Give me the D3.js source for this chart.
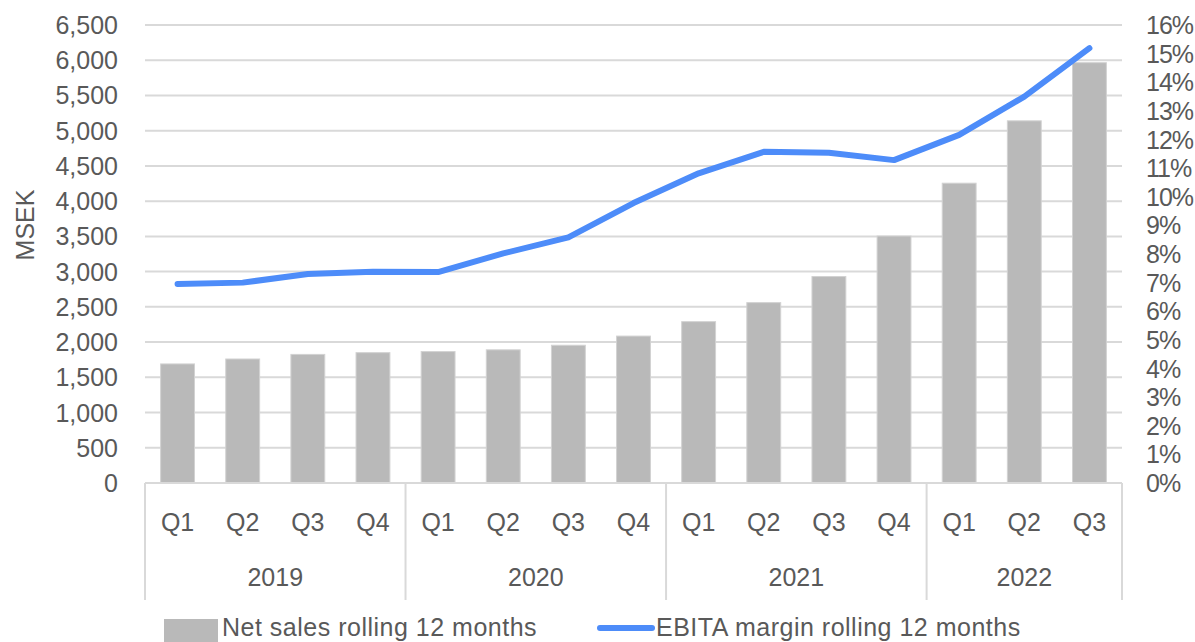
<!DOCTYPE html>
<html lang="en">
<head>
  <meta charset="UTF-8">
  <title>Net sales and EBITA margin</title>
  <style>
    * { box-sizing: border-box; margin: 0; }
    body { background: #fff; overflow: hidden; }
    svg { display: block; font-family: "Liberation Sans", Arial, sans-serif; }
    .tick-label { fill: #595959; font-size: 25px; }
    .right-label { letter-spacing: -1px; }
    .legend-label { letter-spacing: 0.5px; }
    .grid line { stroke: #d9d9d9; stroke-width: 2; }
    .frame { stroke: #d9d9d9; stroke-width: 2; fill: none; }
  </style>
</head>
<body>
  <svg></svg>
  <script src="https://d3js.org/d3.v7.min.js"></script>
  <script>
    const quarters = ['Q1','Q2','Q3','Q4','Q1','Q2','Q3','Q4','Q1','Q2','Q3','Q4','Q1','Q2','Q3'];
    const years = ['2019', '2020', '2021', '2022'];
    const quartersPerYear = [4, 4, 4, 3];
    const netSales = [1690, 1760, 1825, 1850, 1865, 1890, 1955, 2085, 2290, 2560, 2930, 3505, 4255, 5140, 5965];
    const ebitaMargin = [6.95, 7.0, 7.3, 7.38, 7.37, 8.02, 8.58, 9.78, 10.82, 11.57, 11.54, 11.28, 12.16, 13.5, 15.19];
    const leftTicks = d3.range(0, 6501, 500);
    const rightTicks = d3.range(0, 17, 1);
    const legendLabels = ['Net sales rolling 12 months', 'EBITA margin rolling 12 months'];

    const width = 1195;
    const height = 642;
    const margin = {left: 145, right: 73, top: 25, bottom: 159};

    const svg = d3.select('svg')
      .attr('width', width)
      .attr('height', height);

    const x = d3.scaleBand()
      .domain(d3.range(quarters.length))
      .range([margin.left, width - margin.right])
      .paddingInner(0.48)
      .paddingOuter(0.24);

    const y = d3.scaleLinear()
      .domain([0, 6500])
      .range([height - margin.bottom, margin.top]);

    const y2 = d3.scaleLinear()
      .domain([0, 16])
      .range([height - margin.bottom, margin.top]);

    const x0 = margin.left;
    const x1 = width - margin.right;
    const y0 = y(0);

    // gridlines
    svg.append('g')
      .attr('class', 'grid')
      .selectAll('line')
      .data(leftTicks.filter(d => d > 0))
      .enter().append('line')
      .attr('x1', x0)
      .attr('x2', x1)
      .attr('y1', d => y(d))
      .attr('y2', d => y(d));

    // left axis labels
    svg.append('g')
      .selectAll('text')
      .data(leftTicks)
      .enter().append('text')
      .attr('class', 'tick-label')
      .attr('x', 118)
      .attr('y', d => y(d))
      .attr('dy', '0.36em')
      .attr('text-anchor', 'end')
      .text(d => d3.format(',')(d));

    // right axis labels
    svg.append('g')
      .selectAll('text')
      .data(rightTicks)
      .enter().append('text')
      .attr('class', 'tick-label right-label')
      .attr('x', 1146)
      .attr('y', d => y2(d))
      .attr('dy', '0.36em')
      .text(d => d + '%');

    svg.append('text')
      .attr('class', 'tick-label')
      .attr('transform', 'translate(34,' + 225 + ') rotate(-90)')
      .attr('text-anchor', 'middle')
      .text('MSEK');

    // bars
    svg.append('g')
      .selectAll('rect')
      .data(netSales)
      .enter().append('rect')
      .attr('x', (d, i) => x(i))
      .attr('width', x.bandwidth())
      .attr('y', d => y(d))
      .attr('height', d => y0 - y(d))
      .attr('fill', '#b9b9b9')
      .attr('stroke', '#d2d2d2')
      .attr('stroke-width', 1);

    // category axis frame
    const bottom = 600;
    svg.append('line')
      .attr('class', 'frame')
      .attr('x1', x0).attr('x2', x1)
      .attr('y1', y0).attr('y2', y0);

    let start = 0;
    const bounds = [0];
    quartersPerYear.forEach(n => { start += n; bounds.push(start); });

    svg.append('g')
      .selectAll('line')
      .data(bounds)
      .enter().append('line')
      .attr('class', 'frame')
      .attr('x1', i => x0 + x.step() * i)
      .attr('x2', i => x0 + x.step() * i)
      .attr('y1', y0)
      .attr('y2', bottom);

    svg.append('g')
      .selectAll('text')
      .data(quarters)
      .enter().append('text')
      .attr('class', 'tick-label')
      .attr('x', (d, i) => x(i) + x.bandwidth() / 2)
      .attr('y', 522)
      .attr('dy', '0.36em')
      .attr('text-anchor', 'middle')
      .text(d => d);

    svg.append('g')
      .selectAll('text')
      .data(years)
      .enter().append('text')
      .attr('class', 'tick-label')
      .attr('x', (d, i) => x0 + x.step() * (bounds[i] + bounds[i + 1]) / 2)
      .attr('y', 577)
      .attr('dy', '0.36em')
      .attr('text-anchor', 'middle')
      .text(d => d);

    // margin line
    const line = d3.line()
      .x((d, i) => x(i) + x.bandwidth() / 2)
      .y(d => y2(d));

    svg.append('path')
      .datum(ebitaMargin)
      .attr('d', line)
      .attr('fill', 'none')
      .attr('stroke', '#4d8cf9')
      .attr('stroke-width', 6)
      .attr('stroke-linecap', 'round')
      .attr('stroke-linejoin', 'round');

    // legend along the bottom edge
    const legend = svg.append('g');
    legend.append('rect')
      .attr('x', 164).attr('y', 619)
      .attr('width', 54).attr('height', 24)
      .attr('fill', '#b9b9b9');
    legend.append('text')
      .attr('class', 'tick-label legend-label')
      .attr('x', 222).attr('y', 636)
      .text(legendLabels[0]);
    legend.append('line')
      .attr('x1', 600).attr('x2', 652)
      .attr('y1', 628).attr('y2', 628)
      .attr('stroke', '#4d8cf9')
      .attr('stroke-width', 6)
      .attr('stroke-linecap', 'round');
    legend.append('text')
      .attr('class', 'tick-label legend-label')
      .attr('x', 656).attr('y', 636)
      .text(legendLabels[1]);
  </script>
</body>
</html>
